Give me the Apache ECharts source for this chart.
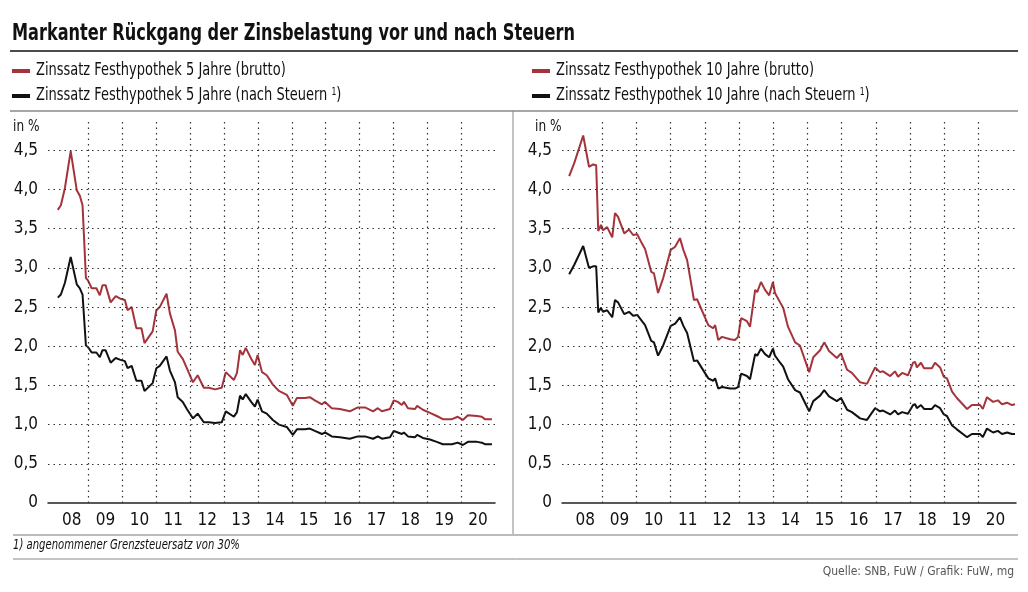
<!DOCTYPE html>
<html>
<head>
<meta charset="utf-8">
<script src="https://cdn.jsdelivr.net/npm/echarts@6/dist/echarts.min.js"></script>
<style>
  html, body { margin: 0; padding: 0; background: #fff; }
  #main { width: 1028px; height: 592px; }
</style>
</head>
<body>
<div id="main"></div>
<script>
// Festhypothek 5 Jahre: Zeitpunkte (Dezimaljahre) und Zinssätze in %
const dates5 = [2008.09, 2008.18, 2008.30, 2008.47, 2008.65, 2008.74, 2008.82, 2008.92, 2008.98, 2009.09,
  2009.23, 2009.33, 2009.41, 2009.50, 2009.65, 2009.80, 2009.92, 2010.07, 2010.15, 2010.27,
  2010.41, 2010.56, 2010.65, 2010.89, 2011.00, 2011.10, 2011.30, 2011.40, 2011.55, 2011.63,
  2011.78, 2011.90, 2012.08, 2012.22, 2012.40, 2012.55, 2012.73, 2012.93, 2013.05, 2013.29,
  2013.38, 2013.47, 2013.55, 2013.64, 2013.80, 2013.91, 2013.99, 2014.12, 2014.26, 2014.44,
  2014.62, 2014.85, 2015.03, 2015.15, 2015.39, 2015.53, 2015.68, 2015.89, 2015.98, 2016.18,
  2016.42, 2016.71, 2016.95, 2017.16, 2017.40, 2017.54, 2017.66, 2017.90, 2018.01, 2018.13,
  2018.25, 2018.31, 2018.43, 2018.64, 2018.70, 2018.87, 2019.08, 2019.28, 2019.46, 2019.73,
  2019.90, 2020.05, 2020.20, 2020.47, 2020.61, 2020.70, 2020.91];
const brutto5 = [3.74, 3.80, 4.02, 4.49, 3.99, 3.92, 3.80, 2.87, 2.84, 2.74,
  2.74, 2.65, 2.78, 2.78, 2.56, 2.64, 2.61, 2.59, 2.46, 2.50,
  2.23, 2.23, 2.04, 2.19, 2.46, 2.50, 2.67, 2.42, 2.20, 1.93,
  1.84, 1.72, 1.54, 1.63, 1.47, 1.47, 1.45, 1.47, 1.67, 1.57,
  1.66, 1.95, 1.89, 1.98, 1.84, 1.76, 1.89, 1.67, 1.63, 1.51,
  1.43, 1.38, 1.24, 1.34, 1.34, 1.35, 1.31, 1.26, 1.29, 1.21,
  1.20, 1.17, 1.22, 1.22, 1.17, 1.21, 1.17, 1.20, 1.31, 1.29,
  1.25, 1.29, 1.21, 1.20, 1.24, 1.19, 1.15, 1.11, 1.07, 1.07,
  1.10, 1.06, 1.12, 1.11, 1.10, 1.07, 1.07];
const netto5 = [2.62, 2.66, 2.81, 3.14, 2.79, 2.74, 2.66, 2.01, 1.99, 1.92,
  1.92, 1.86, 1.95, 1.95, 1.79, 1.85, 1.83, 1.81, 1.72, 1.75,
  1.56, 1.56, 1.43, 1.53, 1.72, 1.75, 1.87, 1.69, 1.54, 1.35,
  1.29, 1.20, 1.08, 1.14, 1.03, 1.03, 1.02, 1.03, 1.17, 1.10,
  1.16, 1.37, 1.32, 1.39, 1.29, 1.23, 1.32, 1.17, 1.14, 1.06,
  1.00, 0.97, 0.87, 0.94, 0.94, 0.95, 0.92, 0.88, 0.90, 0.85,
  0.84, 0.82, 0.85, 0.85, 0.82, 0.85, 0.82, 0.84, 0.92, 0.90,
  0.88, 0.90, 0.85, 0.84, 0.87, 0.83, 0.81, 0.78, 0.75, 0.75,
  0.77, 0.74, 0.78, 0.78, 0.77, 0.75, 0.75];

// Festhypothek 10 Jahre
const dates10 = [2008.03, 2008.18, 2008.44, 2008.61, 2008.73, 2008.82, 2008.88, 2008.96, 2009.02, 2009.14,
  2009.29, 2009.37, 2009.46, 2009.64, 2009.78, 2009.90, 2010.02, 2010.16, 2010.25, 2010.43,
  2010.51, 2010.63, 2010.78, 2011.00, 2011.13, 2011.27, 2011.37, 2011.48, 2011.68, 2011.77,
  2012.10, 2012.24, 2012.30, 2012.39, 2012.50, 2012.74, 2012.88, 2012.97, 2013.06, 2013.23,
  2013.32, 2013.47, 2013.53, 2013.64, 2013.76, 2013.88, 2013.99, 2014.05, 2014.20, 2014.29,
  2014.43, 2014.64, 2014.78, 2015.05, 2015.17, 2015.37, 2015.49, 2015.63, 2015.86, 2015.98,
  2016.16, 2016.30, 2016.54, 2016.74, 2016.98, 2017.12, 2017.21, 2017.42, 2017.56, 2017.65,
  2017.77, 2017.94, 2018.09, 2018.15, 2018.20, 2018.32, 2018.41, 2018.64, 2018.73, 2018.88,
  2018.99, 2019.08, 2019.23, 2019.37, 2019.67, 2019.81, 2020.05, 2020.13, 2020.25, 2020.43,
  2020.57, 2020.69, 2020.84, 2020.98, 2021.07];
const brutto10 = [4.17, 4.34, 4.69, 4.29, 4.32, 4.31, 3.47, 3.55, 3.48, 3.52,
  3.39, 3.70, 3.65, 3.44, 3.49, 3.42, 3.43, 3.31, 3.24, 2.95,
  2.93, 2.68, 2.87, 3.23, 3.27, 3.38, 3.23, 3.10, 2.59, 2.60,
  2.27, 2.23, 2.27, 2.08, 2.12, 2.09, 2.08, 2.12, 2.36, 2.32,
  2.25, 2.72, 2.69, 2.82, 2.72, 2.65, 2.82, 2.68, 2.56, 2.49,
  2.25, 2.05, 2.01, 1.67, 1.86, 1.95, 2.05, 1.94, 1.85, 1.91,
  1.70, 1.66, 1.54, 1.52, 1.73, 1.67, 1.68, 1.62, 1.68, 1.61,
  1.66, 1.63, 1.79, 1.80, 1.73, 1.79, 1.72, 1.72, 1.79, 1.73,
  1.61, 1.59, 1.42, 1.34, 1.20, 1.25, 1.25, 1.20, 1.35, 1.29,
  1.31, 1.26, 1.28, 1.25, 1.26];
const netto10 = [2.92, 3.04, 3.28, 3.00, 3.02, 3.02, 2.43, 2.49, 2.44, 2.46,
  2.37, 2.59, 2.56, 2.41, 2.44, 2.39, 2.40, 2.32, 2.27, 2.07,
  2.05, 1.88, 2.01, 2.26, 2.29, 2.37, 2.26, 2.17, 1.81, 1.82,
  1.59, 1.56, 1.59, 1.46, 1.48, 1.46, 1.46, 1.48, 1.65, 1.62,
  1.58, 1.90, 1.88, 1.97, 1.90, 1.86, 1.97, 1.88, 1.79, 1.74,
  1.58, 1.44, 1.41, 1.17, 1.30, 1.37, 1.44, 1.36, 1.30, 1.34,
  1.19, 1.16, 1.08, 1.06, 1.21, 1.17, 1.18, 1.13, 1.18, 1.13,
  1.16, 1.14, 1.25, 1.26, 1.21, 1.25, 1.20, 1.20, 1.25, 1.21,
  1.13, 1.11, 0.99, 0.94, 0.84, 0.88, 0.88, 0.84, 0.95, 0.90,
  0.92, 0.88, 0.90, 0.88, 0.88];

const yTicks = [0, 0.5, 1, 1.5, 2, 2.5, 3, 3.5, 4, 4.5];
const yearLabels = [2008.5, 2009.5, 2010.5, 2011.5, 2012.5, 2013.5, 2014.5, 2015.5, 2016.5, 2017.5, 2018.5, 2019.5, 2020.5];
const yearLines = [2009, 2010, 2011, 2012, 2013, 2014, 2015, 2016, 2017, 2018, 2019, 2020];

const FONT = "'Liberation Sans Narrow', 'DejaVu Sans Condensed', sans-serif";
const RED = '#a5333b';
const BLACK = '#111';

const pairs = (xs, ys) => xs.map((x, i) => [x, ys[i]]);
const dotted = { color: '#333', width: 1.2, type: [1.5, 4] };

const gridMarks = {
  silent: true,
  symbol: 'none',
  label: { show: false },
  lineStyle: dotted,
  data: yearLines.map(v => ({ xAxis: v })).concat(yTicks.slice(1).map(v => ({ yAxis: v })))
};

function xAxisFor(gridIndex, min, max) {
  return {
    type: 'value', gridIndex, min, max,
    splitLine: { show: false },
    axisTick: { show: false },
    axisLine: { onZero: false, lineStyle: { color: '#222', width: 1.5 } },
    axisLabel: {
      customValues: yearLabels,
      formatter: v => String(Math.round(v - 0.5)).slice(2),
      fontFamily: FONT, fontSize: 17, color: '#111', margin: 9
    }
  };
}

function yAxisFor(gridIndex) {
  return {
    type: 'value', gridIndex, min: 0, max: 4.9,
    splitLine: { show: false },
    axisTick: { show: false },
    axisLine: { show: false },
    axisLabel: {
      customValues: yTicks,
      formatter: v => v === 0 ? '0' : v.toFixed(1).replace('.', ','),
      fontFamily: FONT, fontSize: 17, color: '#111', margin: 10
    }
  };
}

function lineSeries(idx, data, color, withMarks) {
  const s = {
    type: 'line', xAxisIndex: idx, yAxisIndex: idx,
    data, showSymbol: false, animation: false,
    lineStyle: { color, width: 2 }, z: withMarks ? 2 : 3
  };
  if (withMarks) s.markLine = gridMarks;
  return s;
}

// Schrift ist breiter als im Original, daher horizontal gestaucht
const legendItem = (x, y, color, text) => [
  { type: 'line', shape: { x1: x, y1: y, x2: x + 18, y2: y }, style: { stroke: color, lineWidth: 4 } },
  { type: 'text', x: x + 24, y: y, scaleX: 0.85, style: { text, font: '17px ' + FONT, fill: '#111', verticalAlign: 'middle',
      rich: { sup: { fontSize: 10, verticalAlign: 'top', padding: [0, 0, 8, 0], fontFamily: FONT } } } }
];

const chart = echarts.init(document.getElementById('main'));
chart.setOption({
  backgroundColor: '#fff',
  grid: [
    { left: 48, top: 119, width: 447, height: 384 },
    { left: 562, top: 119, width: 454, height: 384 }
  ],
  xAxis: [xAxisFor(0, 2007.8, 2021), xAxisFor(1, 2007.82, 2021.1)],
  yAxis: [yAxisFor(0), yAxisFor(1)],
  series: [
    lineSeries(0, pairs(dates5, brutto5), RED, true),
    lineSeries(0, pairs(dates5, netto5), BLACK, false),
    lineSeries(1, pairs(dates10, brutto10), RED, true),
    lineSeries(1, pairs(dates10, netto10), BLACK, false)
  ],
  graphic: [
    { type: 'text', x: 12, y: 23, scaleX: 0.78, style: { text: 'Markanter Rückgang der Zinsbelastung vor und nach Steuern',
        font: 'bold 23px ' + FONT, fill: '#111' } },
    { type: 'line', shape: { x1: 10, y1: 51, x2: 1018, y2: 51 }, style: { stroke: '#111', lineWidth: 1.5 } },
    ...legendItem(12, 71, RED, 'Zinssatz Festhypothek 5 Jahre (brutto)'),
    ...legendItem(12, 96, BLACK, 'Zinssatz Festhypothek 5 Jahre (nach Steuern {sup|1})'),
    ...legendItem(532, 71, RED, 'Zinssatz Festhypothek 10 Jahre (brutto)'),
    ...legendItem(532, 96, BLACK, 'Zinssatz Festhypothek 10 Jahre (nach Steuern {sup|1})'),
    { type: 'line', shape: { x1: 10, y1: 111, x2: 1018, y2: 111 }, style: { stroke: '#888', lineWidth: 1.5 } },
    { type: 'line', shape: { x1: 513, y1: 111, x2: 513, y2: 535 }, style: { stroke: '#888', lineWidth: 1 } },
    { type: 'text', x: 13, y: 120, scaleX: 0.9, style: { text: 'in %', font: '15px ' + FONT, fill: '#111' } },
    { type: 'text', x: 535, y: 120, scaleX: 0.9, style: { text: 'in %', font: '15px ' + FONT, fill: '#111' } },
    { type: 'line', shape: { x1: 13, y1: 535, x2: 1018, y2: 535 }, style: { stroke: '#bbb', lineWidth: 2 } },
    { type: 'text', x: 13, y: 538, scaleX: 0.8, style: { text: '1) angenommener Grenzsteuersatz von 30%',
        font: 'italic 14px ' + FONT, fill: '#111' } },
    { type: 'line', shape: { x1: 13, y1: 559, x2: 1018, y2: 559 }, style: { stroke: '#888', lineWidth: 1 } },
    { type: 'text', x: 1014, y: 566, style: { text: 'Quelle: SNB, FuW / Grafik: FuW, mg',
        font: '12px ' + FONT, fill: '#555', align: 'right' } }
  ]
});
</script>
</body>
</html>
